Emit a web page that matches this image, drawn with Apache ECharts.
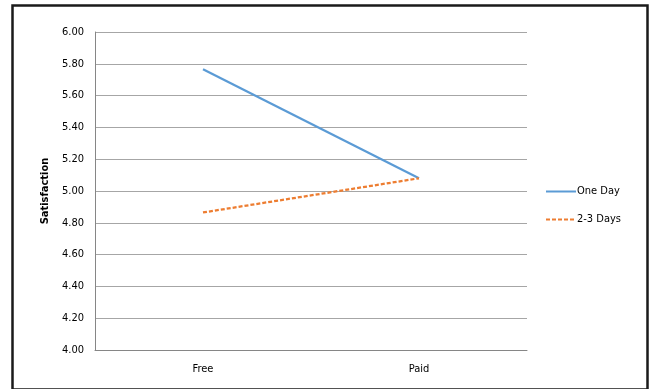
<!DOCTYPE html>
<html>
<head>
<meta charset="utf-8">
<script src="https://cdn.jsdelivr.net/npm/echarts@6/dist/echarts.min.js"></script>
<style>
  html, body { margin: 0; padding: 0; background: #fff; }
  #chart { width: 649px; height: 389px; }
</style>
</head>
<body>
<div id="chart"></div>
<script>
// Satisfaction by pricing condition and duration
const categories = ['Free', 'Paid'];
const oneDay = [5.765, 5.08];
const twoThreeDays = [4.865, 5.08];
const yTicks = { min: 4.0, max: 6.0, step: 0.2 };

const font = '"DejaVu Sans Condensed", "DejaVu Sans", sans-serif';

const chart = echarts.init(document.getElementById('chart'));
chart.setOption({
  animation: false,
  backgroundColor: '#fff',
  graphic: [{
    type: 'rect',
    left: 10, top: 3,
    shape: { width: 635, height: 384 },
    style: { fill: 'none', stroke: '#1a1a1a', lineWidth: 2.5 }
  }],
  grid: { left: 95, right: 122, top: 32, bottom: 39 },
  legend: {
    orient: 'vertical',
    left: 540, top: 181,
    itemWidth: 30, itemHeight: 10, itemGap: 17,
    itemStyle: { opacity: 0 },
    textStyle: { fontFamily: font, fontSize: 11, color: '#000', padding: [0, 0, 0, -4] },
    data: ['One Day', '2-3 Days']
  },
  xAxis: {
    type: 'category',
    data: categories,
    boundaryGap: true,
    axisLine: { lineStyle: { color: '#868686', width: 1 } },
    axisTick: { show: false },
    axisLabel: { fontFamily: font, fontSize: 11, color: '#000', margin: 14 },
    splitLine: { show: false }
  },
  yAxis: {
    type: 'value',
    min: yTicks.min, max: yTicks.max, interval: yTicks.step,
    name: 'Satisfaction',
    nameLocation: 'middle',
    nameGap: 34,
    nameTextStyle: { fontFamily: font, fontSize: 11, fontWeight: 'bold', color: '#000' },
    axisLine: { show: true, lineStyle: { color: '#868686', width: 1 } },
    axisTick: { show: false },
    axisLabel: {
      fontFamily: font, fontSize: 11, color: '#000', margin: 11,
      formatter: v => v.toFixed(2)
    },
    splitLine: { lineStyle: { color: '#a6a6a6', width: 1 } }
  },
  series: [
    {
      name: 'One Day',
      type: 'line',
      data: oneDay,
      symbol: 'none',
      color: '#5b9bd5',
      lineStyle: { color: '#5b9bd5', width: 2.25 }
    },
    {
      name: '2-3 Days',
      type: 'line',
      data: twoThreeDays,
      symbol: 'none',
      color: '#ed7d31',
      lineStyle: { color: '#ed7d31', width: 2.25, type: [4, 2] }
    }
  ]
});
</script>
</body>
</html>
